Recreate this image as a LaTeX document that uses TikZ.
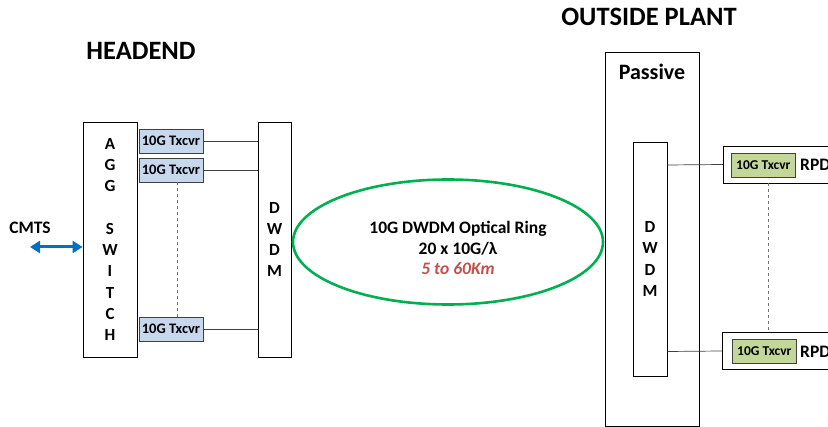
\documentclass[tikz,border=0pt]{standalone}
\usepackage{fontspec}
\setmainfont{Carlito}
\usepackage{tikz}
\usetikzlibrary{arrows.meta,positioning,shapes.geometric,calc}
\definecolor{txblue}{HTML}{C6D7EE}
\definecolor{txgreen}{HTML}{C4D79B}
\definecolor{ringgreen}{HTML}{00B050}
\definecolor{linkblue}{HTML}{0070C0}
\definecolor{kmred}{HTML}{C0504D}
\definecolor{frame}{HTML}{404040}
\tikzset{
  tallBox/.style={draw=black, fill=white, line width=0.9pt, inner sep=0pt, align=center, font=\fontsize{17}{21.3}\selectfont\bfseries},
  blueTx/.style={draw=frame, fill=txblue, line width=0.7pt, minimum width=64, minimum height=24, inner sep=0pt, font=\fontsize{14.5}{16}\selectfont\bfseries},
  greenTx/.style={draw=frame, fill=txgreen, line width=0.7pt, minimum width=64, minimum height=24, inner sep=0pt, font=\fontsize{13.5}{15}\selectfont\bfseries},
  rpdBox/.style={draw=black, fill=white, line width=0.9pt, minimum width=130, minimum height=37, inner sep=0pt},
  fibreLine/.style={draw=black!75, line width=0.7pt},
  gapLine/.style={draw=black!55, dashed, line width=0.7pt},
  titleLabel/.style={font=\fontsize{26.5}{30}\selectfont\bfseries}
}
\begin{document}
\begin{tikzpicture}[x=1pt,y=-1pt]
  \clip (0,0) rectangle (828,427);
  % titles
  \node[titleLabel] (headend) at (141,51) {HEADEND};
  \node[titleLabel] (osp) at (649,17) {OUTSIDE PLANT};
  % headend side
  \node[tallBox, minimum width=54, minimum height=235] (agg) at (110,239.5)
    {A\\G\\G\\\strut\\S\\W\\I\\T\\C\\H};
  \node[tallBox, minimum width=33, minimum height=235] (hdwdm) at (274.5,239.5) {D\\W\\D\\M};
  \node[blueTx] (tx1) at (171,141) {10G Txcvr};
  \node[blueTx] (tx2) at (171,170) {10G Txcvr};
  \node[blueTx] (tx3) at (171,329) {10G Txcvr};
  \draw[fibreLine] (tx1.east) -- (tx1.east -| hdwdm.west);
  \draw[fibreLine] (tx2.east) -- (tx2.east -| hdwdm.west);
  \draw[fibreLine] (tx3.east) -- (tx3.east -| hdwdm.west);
  \draw[gapLine] ($(tx2.south)+(6,0)$) -- ($(tx3.north)+(6,0)$);
  \node[font=\fontsize{17.5}{20}\selectfont\bfseries] (cmts) at (30,228) {CMTS};
  \coordinate (cmtsend) at (30,247);
  \draw[{Triangle[length=10pt,width=12pt]}-{Triangle[length=10pt,width=12pt]}, linkblue, line width=3pt]
    (cmtsend) -- (agg.west |- cmtsend);
  % ring
  \node[ellipse, draw=ringgreen, line width=2.6pt, minimum width=310, minimum height=125] (ring) at (448,242) {};
  \node[align=center, font=\fontsize{17.5}{20.8}\selectfont\bfseries] (ringlab) at (458,248)
    {10G DWDM Optical Ring\\20 x 10G/λ\\\textcolor{kmred}{\itshape 5 to 60Km}};
  % outside plant
  \node[tallBox, minimum width=94, minimum height=374, anchor=north] (passive) at (652,52) {};
  \node[font=\fontsize{22}{26}\selectfont\bfseries] (passivelab) at (652,72) {Passive};
  \node[tallBox, minimum width=34, minimum height=234] (odwdm) at (650,259) {D\\W\\D\\M};
  \node[rpdBox, anchor=west] (rpd1) at (723,164.5) {};
  \node[rpdBox, anchor=west] (rpd2) at (722,351) {};
  \node[greenTx, anchor=west] (otx1) at (731,165) {10G Txcvr};
  \node[greenTx, anchor=west] (otx2) at (732,351.5) {10G Txcvr};
  \node[font=\fontsize{17.5}{20}\selectfont\bfseries, anchor=west, inner sep=0pt] (rpdlab1) at (800,165) {RPD};
  \node[font=\fontsize{17.5}{20}\selectfont\bfseries, anchor=west, inner sep=0pt] (rpdlab2) at (800,351.5) {RPD};
  \draw[fibreLine] (odwdm.east |- otx1) -- (rpd1.west);
  \draw[fibreLine] (odwdm.east |- otx2) -- (rpd2.west);
  \draw[gapLine] (rpd1.south -| otx1.east) ++(-27,0) coordinate (gaptop) -- (gaptop |- rpd2.north);
\end{tikzpicture}
\end{document}
